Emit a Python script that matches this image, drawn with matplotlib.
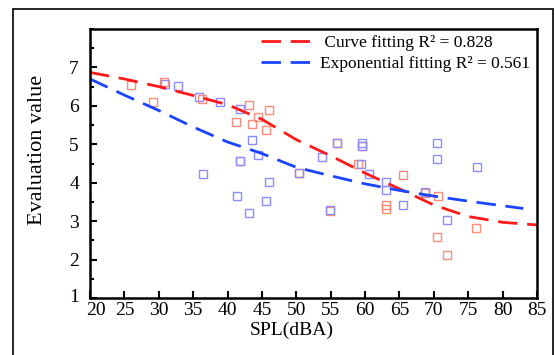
import matplotlib
matplotlib.use('Agg')
import matplotlib.pyplot as plt
import matplotlib.transforms as mtransforms
from matplotlib.patches import Rectangle
from matplotlib.ticker import MultipleLocator

plt.rcParams['font.family'] = ['Liberation Serif', 'DejaVu Serif']

# scatter points
red_x = [26.0, 29.2, 30.8, 36.3, 43.1, 46.0, 44.4, 41.2, 43.6, 45.6, 41.8, 50.4,
         54.9, 55.9, 59.6, 59.0, 65.5, 63.0, 63.1, 68.7, 70.6, 70.5, 71.9, 76.1]
red_y = [6.53, 6.09, 6.61, 6.19, 6.01, 5.88, 5.70, 5.57, 5.52, 5.36, 4.56, 4.25,
         3.27, 5.03, 4.95, 4.48, 4.19, 3.42, 3.31, 3.73, 3.65, 2.58, 2.12, 2.82]

blue_x = [30.9, 32.8, 35.9, 38.9, 41.8, 43.6, 44.4, 41.8, 36.4, 46.0, 41.4, 45.6,
          43.1, 50.4, 53.7, 55.9, 59.6, 59.6, 59.4, 60.6, 63.0, 63.0, 65.5, 54.9,
          68.7, 70.5, 70.5, 71.9, 76.3]
blue_y = [6.58, 6.51, 6.22, 6.09, 5.91, 5.10, 4.71, 4.56, 4.22, 4.01, 3.65, 3.52,
          3.21, 4.25, 4.66, 5.03, 5.03, 4.95, 4.48, 4.22, 4.01, 3.80, 3.42, 3.29,
          3.75, 5.03, 4.61, 3.03, 4.40]

# fitted curves, read every 5 dBA
curve_x = [20, 25, 30, 35, 40, 45, 50, 55, 60, 65, 70, 75, 80, 85]
curve_y = [6.87, 6.70, 6.50, 6.27, 6.03, 5.65, 5.12, 4.70, 4.25, 3.84, 3.42, 3.12, 2.97, 2.90]
expo_x = [20, 25, 30, 35, 40, 45, 50, 55, 60, 65, 70, 75, 80, 83]
expo_y = [6.70, 6.28, 5.88, 5.45, 5.06, 4.76, 4.40, 4.18, 3.97, 3.80, 3.65, 3.52, 3.40, 3.33]

x_ticks = [20, 25, 30, 35, 40, 45, 50, 55, 60, 65, 70, 75, 80, 85]
y_ticks = [1, 2, 3, 4, 5, 6, 7]

fig = plt.figure(figsize=(5.56, 3.55), dpi=100)
fig.patches.append(Rectangle((13 / 556, -0.1), 540 / 556, 1.1 - 9 / 355,
                             transform=fig.transFigure, fill=False,
                             edgecolor='black', linewidth=1.2))
ax = fig.add_axes([90 / 556, 1 - 298 / 355, 447 / 556, 269 / 355])

ax.plot(red_x, red_y, 's', ms=5.5, mfc='none', mec='#ff8c78', mew=1.0)
ax.plot(blue_x, blue_y, 's', ms=5.5, mfc='none', mec='#8c8cff', mew=1.0)

ax.plot(curve_x, curve_y, color='#ff1a1a', lw=2.0, dashes=(7, 3.5),
        label=' Curve fitting R² = 0.828')
ax.plot(expo_x, expo_y, color='#1a44ff', lw=2.0, dashes=(7, 3.5),
        label='Exponential fitting R² = 0.561')

ax.set_xlim(20, 85)
ax.set_ylim(1, 8)
ax.set_xticks(x_ticks)
ax.set_yticks(y_ticks)
ax.yaxis.set_minor_locator(MultipleLocator(0.5))
ax.tick_params(axis='both', which='both', direction='in', labelsize=14,
               top=False, right=False, width=1.5)
ax.tick_params(which='major', length=5, pad=3)
ax.tick_params(axis='y', which='major', pad=8)
ax.tick_params(which='minor', length=3)
for s in ax.spines.values():
    s.set_linewidth(1.8)

# nudge the corner labels apart like the original
ax.get_xticklabels()[0].set_transform(
    ax.get_xticklabels()[0].get_transform()
    + mtransforms.ScaledTranslation(6 / 100, 0, fig.dpi_scale_trans))
ax.get_yticklabels()[0].set_transform(
    ax.get_yticklabels()[0].get_transform()
    + mtransforms.ScaledTranslation(0, 3 / 100, fig.dpi_scale_trans))

ax.set_xlabel('SPL(dBA)', fontsize=14)
ax.xaxis.set_label_coords((292 - 90) / 447, -0.089)
ax.set_ylabel('Evaluation value', fontsize=16)
ax.yaxis.set_label_coords(-0.096, 0.55)

ax.legend(loc='upper right', frameon=False, fontsize=12.5, handlelength=2.9,
          handletextpad=0.5, labelspacing=0.3, borderaxespad=0.0,
          bbox_to_anchor=(1.0, 1.004))

fig.savefig('out.png', dpi=100)
